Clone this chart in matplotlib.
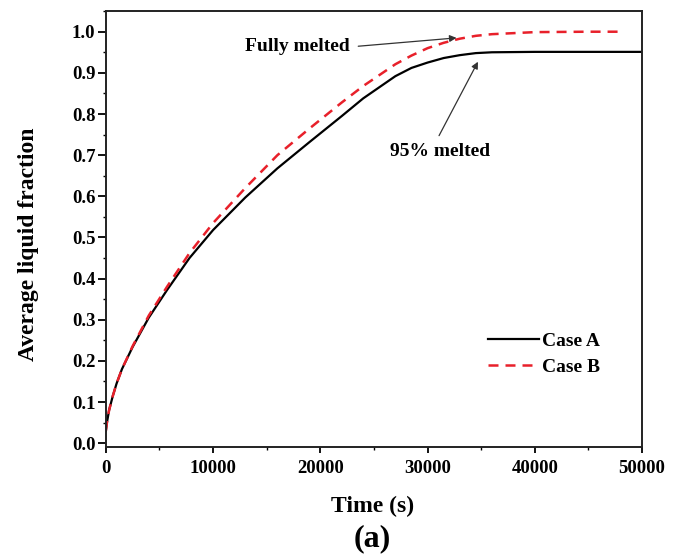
import matplotlib
matplotlib.use("Agg")
import matplotlib.pyplot as plt
from matplotlib.ticker import MultipleLocator, FormatStrFormatter

plt.rcParams['font.family'] = ['Liberation Serif', 'DejaVu Serif']
plt.rcParams['font.weight'] = 'bold'

time_a = [0, 100, 300, 650, 1000, 1500, 2500, 4000, 5700, 7800, 10000, 13000, 16000, 19000,
          22000, 24000, 27000, 28500, 30000, 31500, 33000, 34500, 36000, 40000, 45000, 50000]
frac_a = [0.03, 0.05, 0.08, 0.115, 0.145, 0.18, 0.234, 0.305, 0.372, 0.45, 0.518, 0.597, 0.668, 0.732,
          0.795, 0.838, 0.892, 0.912, 0.925, 0.936, 0.943, 0.948, 0.950, 0.951, 0.951, 0.951]
time_b = [0, 100, 300, 650, 1000, 1500, 2500, 4000, 5700, 7800, 10000, 13000, 16000, 19000,
          22000, 24000, 27000, 28500, 30000, 31500, 33000, 34500, 36000, 40000, 45000, 48000]
frac_b = [0.03, 0.05, 0.08, 0.115, 0.145, 0.18, 0.236, 0.31, 0.38, 0.462, 0.535, 0.62, 0.70, 0.765,
          0.828, 0.868, 0.921, 0.942, 0.96, 0.973, 0.983, 0.990, 0.994, 0.999, 1.0, 1.0]

fig = plt.figure(figsize=(6.83, 5.57), dpi=100)
ax = fig.add_axes([0.155, 0.197, 0.785, 0.783])

ax.plot(time_a, frac_a, color='black', lw=1.6, label='Case A')
ax.plot(time_b, frac_b, color='#e8202a', lw=1.8, ls=(0, (4, 2.8)), label='Case B')

ax.set_xlim(0, 50000)
ax.set_ylim(-0.01, 1.05)
ax.xaxis.set_major_locator(MultipleLocator(10000))
ax.xaxis.set_minor_locator(MultipleLocator(5000))
ax.yaxis.set_major_locator(MultipleLocator(0.1))
ax.yaxis.set_minor_locator(MultipleLocator(0.05))
ax.yaxis.set_major_formatter(FormatStrFormatter('%.1f'))
ax.tick_params(which='major', direction='out', width=1.3, labelsize=13.5)
ax.tick_params(axis='y', which='major', length=5.5, pad=2)
ax.tick_params(axis='x', which='major', length=4, pad=5)
ax.tick_params(which='minor', direction='out', length=2.5, width=1.0)
for lab in ax.get_xticklabels() + ax.get_yticklabels():
    lab.set_fontweight('bold')
for s in ax.spines.values():
    s.set_linewidth(1.4)
    s.set_color('#222222')

fig.text(0.041, 0.562, 'Average liquid fraction', rotation=90, ha='center', va='center',
         fontsize=17, fontweight='bold')
fig.text(0.545, 0.0915, 'Time (s)', ha='center', va='center', fontsize=17, fontweight='bold')
fig.text(0.545, 0.033, '(a)', ha='center', va='center', fontsize=23, fontweight='bold')

ax.annotate('Fully melted', xy=(32700, 0.985), xytext=(22760, 0.963),
            ha='right', va='center', fontsize=14, fontweight='bold',
            arrowprops=dict(arrowstyle='-|>', color='#333333', lw=0.9, mutation_scale=10,
                            shrinkA=4, shrinkB=0, relpos=(1.0, 0.5)))
ax.annotate('95% melted', xy=(34700, 0.927), xytext=(31160, 0.708),
            ha='center', va='center', fontsize=14, fontweight='bold',
            arrowprops=dict(arrowstyle='-|>', color='#333333', lw=0.9, mutation_scale=10,
                            shrinkA=4, shrinkB=0, relpos=(0.45, 1.0)))

leg = ax.legend(loc='center left', bbox_to_anchor=(0.713, 0.213), frameon=False,
                handlelength=2.6, handletextpad=0.15, labelspacing=0.42,
                prop={'weight': 'bold', 'size': 14}, borderpad=0, borderaxespad=0)

fig.savefig('out.png', dpi=100)
